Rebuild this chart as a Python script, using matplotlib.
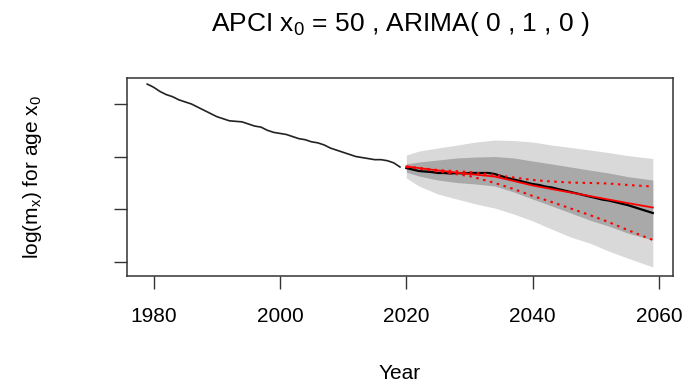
import matplotlib
matplotlib.use("Agg")
import matplotlib.pyplot as plt

plt.rcParams['font.family'] = ['Liberation Sans', 'DejaVu Sans']
plt.rcParams['mathtext.fontset'] = 'custom'
plt.rcParams['mathtext.rm'] = 'Liberation Sans'
plt.rcParams['mathtext.it'] = 'Liberation Sans'

# observed log mortality, 1979-2019
hist_years = list(range(1979, 2020))
hist_vals = [-3.81, -3.84, -3.88, -3.91, -3.93, -3.96, -3.98, -4.00, -4.03, -4.06,
             -4.09, -4.12, -4.14, -4.16, -4.165, -4.17, -4.19, -4.21, -4.22, -4.25,
             -4.27, -4.28, -4.29, -4.31, -4.33, -4.34, -4.36, -4.37, -4.39, -4.42,
             -4.44, -4.46, -4.48, -4.50, -4.51, -4.52, -4.53, -4.53, -4.54, -4.56,
             -4.60]

# central forecast, 2020-2059
fc_years = list(range(2020, 2060))
fc_vals = [-4.610, -4.624, -4.638, -4.643, -4.648, -4.657, -4.657, -4.662, -4.657, -4.662,
           -4.657, -4.657, -4.657, -4.657, -4.667, -4.686, -4.705, -4.719, -4.733, -4.748,
           -4.762, -4.771, -4.786, -4.795, -4.810, -4.824, -4.838, -4.852, -4.867, -4.881,
           -4.895, -4.910, -4.919, -4.933, -4.948, -4.962, -4.981, -5.000, -5.019, -5.038]

# prediction bands
band_years = [2020, 2022, 2025, 2028, 2031, 2034, 2037, 2040, 2043, 2046, 2049, 2052, 2055, 2059]
outer_hi = [-4.486, -4.448, -4.419, -4.391, -4.362, -4.343, -4.348, -4.362, -4.391, -4.414,
            -4.438, -4.462, -4.491, -4.519]
outer_lo = [-4.705, -4.781, -4.857, -4.905, -4.952, -4.991, -5.048, -5.114, -5.191, -5.267,
            -5.324, -5.400, -5.467, -5.552]
inner_hi = [-4.571, -4.552, -4.533, -4.514, -4.505, -4.500, -4.514, -4.543, -4.571, -4.600,
            -4.629, -4.657, -4.691, -4.724]
inner_lo = [-4.648, -4.686, -4.724, -4.748, -4.762, -4.781, -4.838, -4.905, -4.971, -5.038,
            -5.105, -5.162, -5.229, -5.295]

# red comparison forecast with its interval
red_years = [2020, 2025, 2030, 2034, 2037, 2040, 2043, 2046, 2049, 2052, 2055, 2059]
red_mid = [-4.595, -4.633, -4.667, -4.691, -4.733, -4.776, -4.810, -4.843, -4.876, -4.910,
           -4.943, -4.986]
red_hi = [-4.595, -4.629, -4.648, -4.676, -4.700, -4.724, -4.738, -4.748, -4.752, -4.757,
          -4.771, -4.786]
red_lo = [-4.600, -4.643, -4.686, -4.752, -4.810, -4.876, -4.933, -4.995, -5.057, -5.124,
          -5.200, -5.295]

fig = plt.figure(figsize=(6.85, 3.84), dpi=100)
ax = fig.add_axes([0.1854, 0.28125, 0.7971, 0.5157])

ax.fill_between(band_years, outer_lo, outer_hi, color='#d9d9d9', lw=0)
ax.fill_between(band_years, inner_lo, inner_hi, color='#a9a9a9', lw=0)

ax.plot(hist_years, hist_vals, color='#222222', lw=1.2)
ax.plot(fc_years, fc_vals, color='black', lw=1.6)
ax.plot(red_years, red_mid, color='#ff0000', lw=1.3)
ax.plot(red_years, red_hi, color='#ff0000', lw=1.5, ls=(0, (1.2, 2.2)))
ax.plot(red_years, red_lo, color='#ff0000', lw=1.5, ls=(0, (1.2, 2.2)))

ax.set_xlim(1975.8, 2062.2)
ax.set_ylim(-5.638, -3.752)
ax.set_xticks([1980, 2000, 2020, 2040, 2060])
ax.set_yticks([-4.0, -4.5, -5.0, -5.5])
ax.set_yticklabels([])
ax.tick_params(length=9.5, width=1.0, labelsize=15, pad=13, color='#333333')
for s in ax.spines.values():
    s.set_linewidth(1.1)
    s.set_color('#333333')

ax.set_title(r'APCI $\mathregular{x_0}$ = 50 , ARIMA( 0 , 1 , 0 )', fontsize=19, pad=34)
ax.set_xlabel('Year', fontsize=15, labelpad=27)
ax.set_ylabel(r'log(m$\mathregular{_x}$) for age x$\mathregular{_0}$', fontsize=15, labelpad=37)

fig.savefig('out.png', dpi=100)
